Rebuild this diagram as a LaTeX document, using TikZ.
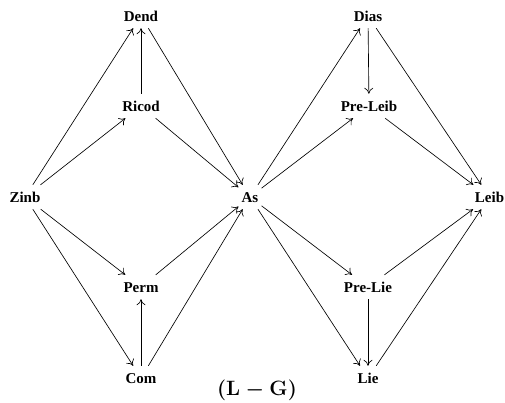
\documentclass[tikz,border=0pt]{standalone}
\usepackage{fontspec}
\newfontfamily\tnr{Liberation Serif}
\usetikzlibrary{arrows.meta}
\tikzset{
  op/.style={font=\tnr\bfseries\fontsize{15}{18}\selectfont, text height=10pt, text depth=0pt, inner ysep=7pt, inner xsep=3pt},
  arr/.style={-{To[length=6pt,width=9pt]}, line width=0.65pt},
  captext/.style={font=\fontsize{20}{24}\selectfont\boldmath},
}
\begin{document}
\begin{tikzpicture}[x=1pt,y=-1pt]
\useasboundingbox (0,0) rectangle (505,402);
% left diamond
\node[op] (Dend)  at (141,16)  {Dend};
\node[op] (Ricod) at (141,106) {Ricod};
\node[op] (Zinb)  at (25,197)  {Zinb};
\node[op] (As)    at (250,197) {As};
\node[op] (Perm)  at (141,287) {Perm};
\node[op] (Com)   at (141,378) {Com};
% right diamond
\node[op] (Dias)  at (368,16)  {Dias};
\node[op] (PreLeib) at (369,106) {Pre-Leib};
\node[op] (Leib)  at (489.5,197) {Leib};
\node[op] (PreLie) at (368,287) {Pre-Lie};
\node[op] (Lie)   at (368,378) {Lie};
% caption
\node[captext] (capt) at (257,390) {$\left(\mathbf{L}-\mathbf{G}\right)$};
% left edges
\draw[arr] (Zinb) -- (Dend);
\draw[arr] (Zinb) -- (Ricod);
\draw[arr] (Ricod) -- (Dend);
\draw[arr] (Dend) -- (As);
\draw[arr] (Ricod) -- (As);
\draw[arr] (Zinb) -- (Perm);
\draw[arr] (Zinb) -- (Com);
\draw[arr] (Com) -- (Perm);
\draw[arr] (Perm) -- (As);
\draw[arr] (Com) -- (As);
% right edges
\draw[arr] (As) -- (Dias);
\draw[arr] (As) -- (PreLeib);
\draw[arr] (Dias) -- (PreLeib);
\draw[arr] (Dias) -- (Leib);
\draw[arr] (PreLeib) -- (Leib);
\draw[arr] (As) -- (PreLie);
\draw[arr] (As) -- (Lie);
\draw[arr] (PreLie) -- (Lie);
\draw[arr] (PreLie) -- (Leib);
\draw[arr] (Lie) -- (Leib);
\end{tikzpicture}
\end{document}
